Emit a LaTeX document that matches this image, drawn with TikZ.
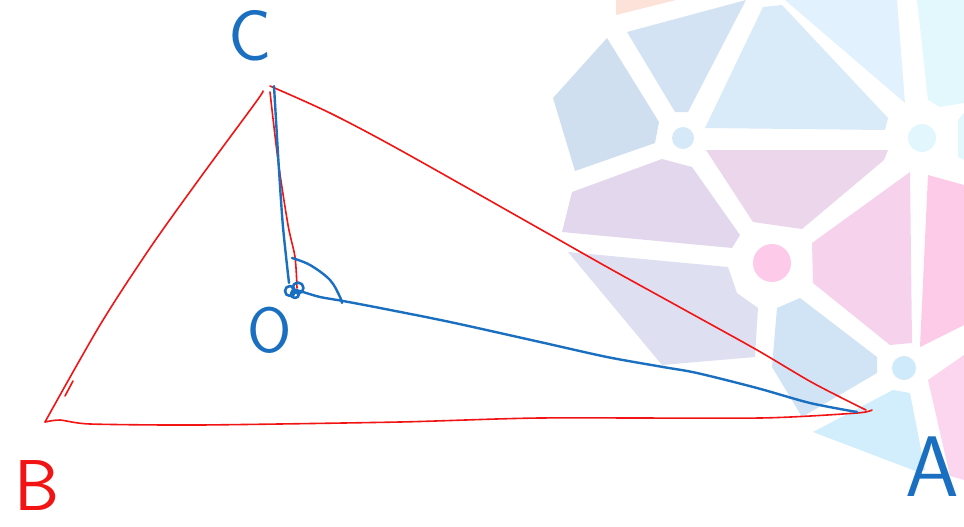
\documentclass[tikz,border=0pt]{standalone}
\usepackage{tikz}
\definecolor{pen}{HTML}{1A6FC0}
\definecolor{ink}{HTML}{F21414}
\definecolor{wA}{HTML}{CFDFF0}
\definecolor{wB}{HTML}{D3E3F3}
\definecolor{wC}{HTML}{D9EAF9}
\definecolor{wD}{HTML}{E1F1FD}
\definecolor{wE}{HTML}{E3F8FD}
\definecolor{wF}{HTML}{EBD6EB}
\definecolor{wG}{HTML}{E3D7ED}
\definecolor{wH}{HTML}{DEDFF1}
\definecolor{wI}{HTML}{F6D2EC}
\definecolor{wJ}{HTML}{FDCBE8}
\definecolor{wK}{HTML}{D0E4F6}
\definecolor{wL}{HTML}{D2EDFC}
\definecolor{wM}{HTML}{FCD6EE}
\definecolor{wN}{HTML}{FDE2DA}
\definecolor{dA}{HTML}{D5E9F8}
\definecolor{dB}{HTML}{E1F6FD}
\definecolor{dC}{HTML}{FDCBE9}
\definecolor{dD}{HTML}{CFEAFA}
\tikzset{
  redline/.style={draw=ink, line width=1.6pt, line cap=round, line join=round},
  blueline/.style={draw=pen, line width=2.4pt, line cap=round, line join=round},
  lbl/.style={inner sep=0pt, font=\sffamily}
}
\begin{document}
\begin{tikzpicture}[x=1pt,y=-1pt]
\useasboundingbox (0,0) rectangle (964,527);
% watermark
\fill[wN] (616,0) -- (676,0) -- (616,15) -- cycle;
\fill[wA] (553,98) -- (607,38) -- (659,122) -- (655,143) -- (575,171) -- cycle;
\fill[wB] (627,32) -- (746,0) -- (688,112) -- (675,112) -- cycle;
\fill[wC] (705,128) -- (763,7) -- (782,5) -- (888,118) -- (885,130) -- cycle;
\fill[wD] (785,0) -- (897,0) -- (905,103) -- cycle;
\fill[wE] (917,0) -- (964,0) -- (964,103) -- (940,107) -- (928,100) -- cycle;
\fill[wE] (958,120) -- (964,113) -- (964,160) -- (958,157) -- cycle;
\fill[wF] (706,150) -- (888,150) -- (884,160) -- (802,229) -- (753,222) -- cycle;
\fill[wI] (812,243) -- (910,172) -- (912,343) -- (890,345) -- (813,283) -- cycle;
\fill[wJ] (928,175) -- (964,185) -- (964,325) -- (920,347) -- cycle;
\fill[wG] (572,192) -- (662,159) -- (692,167) -- (740,235) -- (732,248) -- (562,232) -- cycle;
\fill[wH] (568,252) -- (728,267) -- (737,293) -- (758,308) -- (755,357) -- (662,365) -- cycle;
\fill[wK] (777,308) -- (800,298) -- (877,357) -- (877,373) -- (802,417) -- (772,367) -- cycle;
\fill[wL] (813,432) -- (893,390) -- (910,393) -- (925,470) -- (918,472) -- cycle;
\fill[wM] (928,380) -- (964,355) -- (964,480) -- (950,476) -- cycle;
\fill[dA] (683,138) circle (11);
\fill[dB] (922,138) circle (14);
\fill[dC] (772,263) circle (19);
\fill[dD] (904,368) circle (12);
% points
\coordinate (C) at (270,86);
\coordinate (Cl) at (263,91);
\coordinate (Cm) at (270,92);
\coordinate (Cb) at (274,86);
\coordinate (O) at (296,290);
\coordinate (Or) at (297,288);
\coordinate (Ob) at (289,283);
\coordinate (A) at (866,410);
\coordinate (Ab) at (857,412);
\coordinate (At) at (872,410);
\coordinate (B) at (45,422);
\coordinate (Bt1) at (65,396);
\coordinate (Bt2) at (73,381);
\coordinate (Ar1) at (292,258);
\coordinate (Ar2) at (342,303);
% red triangle
\draw[redline] plot[smooth,tension=0.5] coordinates {(C) (330,113) (400,150) (540,229) (607,267) (683,309) (757,350) (813,383) (A)};
\draw[redline] plot[smooth,tension=0.5] coordinates {(Cl) (256,102) (200,178) (150,248) (100,325) (B)};
\draw[redline] (Bt1) -- (Bt2);
\draw[redline] plot[smooth,tension=0.4] coordinates {(B) (60,420) (90,424) (200,425) (400,422) (540,418) (760,418) (857,413) (At)};
\draw[redline] plot[smooth,tension=0.5] coordinates {(Cm) (278,160) (288,225) (295,257) (Or)};
% blue
\draw[blueline] plot[smooth,tension=0.5] coordinates {(Cb) (276,120) (279,170) (283,227) (Ob)};
\draw[blueline] plot[smooth,tension=0.5] coordinates {(O) (303,292) (320,297) (343,301) (380,308) (450,322) (540,342) (607,357) (663,367) (697,373) (757,388) (810,403) (Ab)};
\draw[blueline] plot[smooth,tension=0.6] coordinates {(Ar1) (310,265) (330,280) (340,297) (Ar2)};
\draw[blueline, line width=2.6pt] (290,291) circle (5) (298,288) circle (5.5) (295,294) circle (4);
% labels
\node[lbl, text=pen, font=\sffamily\fontsize{72}{72}\selectfont] (lC) at (250,36) {C};
\node[lbl, text=pen, font=\sffamily\fontsize{64}{64}\selectfont] (lO) at (270,330) {O};
\node[lbl, text=ink, font=\sffamily\fontsize{72}{72}\selectfont] (lB) at (37,486) {B};
\node[lbl, text=pen, font=\sffamily\fontsize{86}{86}\selectfont] (lA) at (932,467) {A};
\end{tikzpicture}
\end{document}
